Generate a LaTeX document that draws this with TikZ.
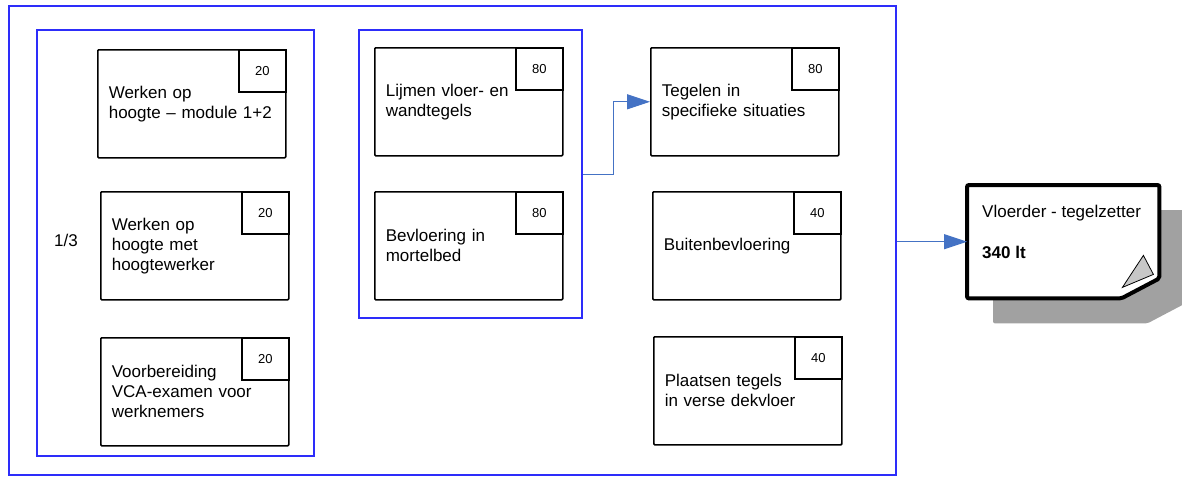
\documentclass[tikz,border=0pt]{standalone}
\usepackage{fontspec}
\setmainfont{Liberation Sans}
\usetikzlibrary{arrows.meta,calc,positioning}
\definecolor{groupblue}{RGB}{45,45,250}
\definecolor{linkblue}{RGB}{68,114,196}

\begin{document}
\begin{tikzpicture}
[x=1pt,y=-1pt,
module/.style={draw,line width=1.6pt,rounded corners=1pt,minimum width=188pt,
	minimum height=108pt,inner sep=11pt,text width=166pt,align=left,
	anchor=north west,font=\fontsize{17}{20}\selectfont},
score/.style={draw,line width=1.6pt,minimum width=47pt,minimum height=42pt,
	inner sep=0pt,anchor=north east,font=\fontsize{13}{15}\selectfont},
group/.style={draw=groupblue,line width=2pt,inner sep=0pt,anchor=north west},
link/.style={draw=linkblue,line width=1pt,-{Triangle[length=23pt,width=15pt]}}]

\useasboundingbox (0,0) rectangle (1182,477);

\node[group,minimum width=887pt,minimum height=469pt] (outer) at (8,5) {};
\node[group,minimum width=277pt,minimum height=426pt] (g1) at (36,29) {};
\node[group,minimum width=223pt,minimum height=288pt] (g2) at (358,29) {};

\foreach \name/\x/\y/\pts/\txt in {
	m1/97/49/20/{Werken op\\hoogte – module 1+2},
	m2/100/191/20/{Werken op\\hoogte met\\hoogtewerker},
	m3/100/337/20/{Voorbereiding\\VCA-examen voor\\werknemers},
	m4/374/47/80/{Lijmen vloer- en\\wandtegels},
	m5/374/191/80/{Bevloering in\\mortelbed},
	m6/650/47/80/{Tegelen in\\specifieke situaties},
	m7/652/191/40/{Buitenbevloering},
	m8/653/336/40/{Plaatsen tegels\\in verse dekvloer}}{
	\node[module] (\name) at (\x,\y) {\txt};
	\node[score] (\name s) at (\name.north east) {\pts};
}

\node[anchor=west,inner sep=0pt,font=\fontsize{17}{20}\selectfont] (part) at (54,240) {1/3};

% eindprofiel
\node[minimum width=192pt,minimum height=113pt,inner sep=0pt,anchor=north west] (doc) at (967,185) {};
\fill[black!37,rounded corners=2pt] ($(doc.north west)+(26,25)$) -- ($(doc.north east)+(26,25)$)
	-- ($(doc.south east)+(26,5)$) -- ($(doc.south east)+(-12,25)$) -- ($(doc.south west)+(26,25)$) -- cycle;
\draw[line width=4pt,fill=white,rounded corners=2pt] (doc.north west) -- (doc.north east)
	-- ($(doc.south east)+(0,-20)$) -- ($(doc.south east)+(-38,0)$) -- (doc.south west) -- cycle;
\filldraw[fill=black!22,line width=0.8pt] ($(doc.south east)+(-16,-43)$) -- ($(doc.south east)+(-37,-11)$)
	-- ($(doc.south east)+(-6,-24)$) -- cycle;
\node[anchor=north west,align=left,inner sep=0pt,font=\fontsize{17}{20}\selectfont] (role)
	at ($(doc.north west)+(15,20)$) {Vloerder - tegelzetter\\[21pt]\textbf{340 lt}};

\draw[link] (g2.east) -- ++(30,0) |- (m6.west);
\draw[link] (outer.east |- doc.west) -- (doc.west);
\end{tikzpicture}
\end{document}
